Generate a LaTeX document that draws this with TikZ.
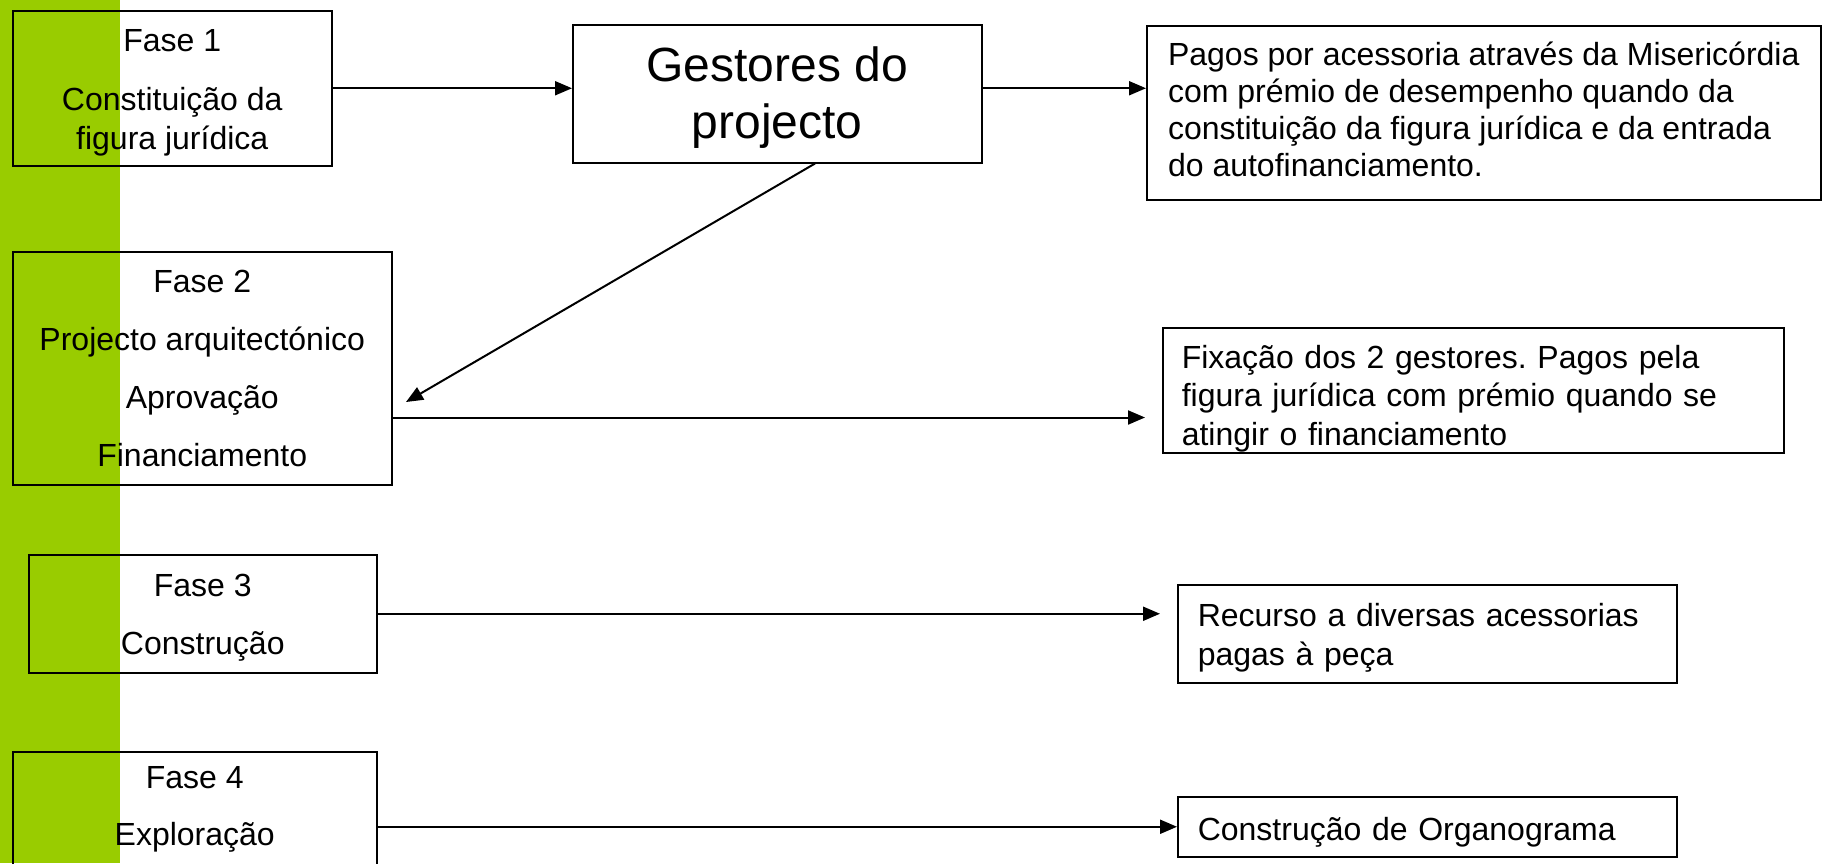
\documentclass[tikz,border=0pt]{standalone}
\usepackage{fontspec}
\setmainfont{Liberation Sans}
\usetikzlibrary{arrows.meta,calc}
\definecolor{barGreen}{RGB}{153,204,0}
\newcommand{\topstrut}[1]{\rule{0pt}{#1}}
\newcommand{\botstrut}[1]{\rule[-#1]{0pt}{#1}}
\frenchspacing
\begin{document}
\begin{tikzpicture}[x=0.5pt,y=-0.5pt,
  phasebox/.style={draw=black,line width=0.75pt,anchor=north west,align=center,inner sep=0pt,font=\fontsize{16pt}{29pt}\selectfont},
  notebox/.style={draw=black,line width=0.75pt,anchor=north west,align=left,inner ysep=0pt,font=\fontsize{16pt}{19.3pt}\selectfont},
  link/.style={line width=1pt,-{Triangle[length=8.5pt,width=7pt]}}]
\useasboundingbox (0,0) rectangle (1823,863);
\clip (0,0) rectangle (1823,863);
\fill[barGreen] (0,0) rectangle (120,863);

\node[phasebox,minimum width=159.5pt,minimum height=77.5pt,font=\fontsize{16pt}{19.5pt}\selectfont] (F1) at (12,10) {\topstrut{16pt}Fase 1\\[10pt]Constituição da\\figura jurídica};
\node[phasebox,minimum width=189.5pt,minimum height=116.5pt] (F2) at (12,251) {Fase 2\\Projecto arquitectónico\\Aprovação\\Financiamento};
\node[phasebox,minimum width=174pt,minimum height=59pt] (F3) at (28,554) {\topstrut{15pt}Fase 3\\Construção};
\node[phasebox,minimum width=182pt,minimum height=57.5pt,font=\fontsize{16pt}{28.5pt}\selectfont] (F4) at (12,751) {Fase 4\\Exploração};
\node[phasebox,minimum width=204.5pt,minimum height=69pt,font=\fontsize{24pt}{28.5pt}\selectfont] (G) at (572,24) {\topstrut{21.5pt}Gestores do\\projecto};

\node[notebox,inner xsep=0pt,minimum width=337pt,minimum height=87pt,font=\fontsize{16pt}{18.5pt}\selectfont] (P) at (1146,25) {Pagos por acessoria através da Misericórdia\\com prémio de desempenho quando da\\constituição da figura jurídica e da entrada\\do autofinanciamento.\botstrut{4pt}};
\node[notebox,text width=291.5pt,inner xsep=9.5pt,minimum height=62.5pt] (X) at (1162,327) {\topstrut{20pt}Fixação dos 2 gestores. Pagos pela\\figura jurídica com prémio quando se\\atingir o financiamento};
\node[notebox,text width=229.5pt,inner xsep=10pt,minimum height=49pt] (R) at (1177,584) {\topstrut{15.5pt}Recurso a diversas acessorias\\pagas à peça};
\node[notebox,text width=229.5pt,inner xsep=10pt,minimum height=30pt] (O) at (1177,796) {\topstrut{17.5pt}Construção de Organograma};

\coordinate (d2) at (406,402);
\coordinate (g2) at ($(G.south west)!0.592!(G.south east)$);
\coordinate (s2) at ($(F2.north east)!0.71!(F2.south east)$);

\draw[link] (F1.east) -- (F1.east -| G.west);
\draw[link] (F1.east -| G.east) -- (F1.east -| P.west);
\draw[link] (g2) -- (d2);
\draw[link] (s2) -- ($(s2 -| X.west)+(-17,0)$);
\draw[link] (F3.east) -- ($(F3.east -| R.west)+(-17,0)$);
\draw[link] (F4.east |- O.west) -- (O.west);
\end{tikzpicture}
\end{document}
